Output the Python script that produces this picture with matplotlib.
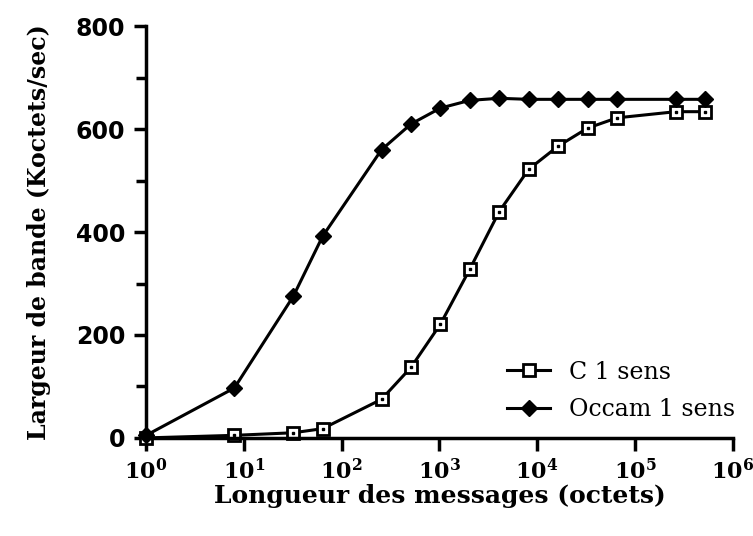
import matplotlib.pyplot as plt

# message sizes (octets) and bandwidth (Koctets/sec)
taille = [1, 8, 32, 64, 256, 512, 1024, 2048, 4096, 8192, 16384, 32768,
          65536, 262144, 524288]
c_1_sens = [0, 5, 10, 18, 75, 137, 221, 328, 440, 522, 567, 602,
            622, 634, 634]
occam_1_sens = [5, 97, 275, 392, 560, 610, 641, 656, 660, 658, 658, 658,
                658, 658, 658]

xticks = [1, 10, 100, 1000, 10000, 100000, 1000000]
xticklabels = ["$\\mathbf{10^{%d}}$" % i for i in range(7)]
yticks = [0, 200, 400, 600, 800]


def main():
    plt.rcParams["font.family"] = ["DejaVu Serif"]
    plt.rcParams["mathtext.fontset"] = "dejavuserif"

    fig = plt.figure(figsize=(7.53, 5.36), dpi=100)
    ax = fig.add_axes([0.194, 0.183, 0.779, 0.768])

    ax.plot(taille, c_1_sens, color="black", lw=2.2, marker="s", ms=9,
            mfc="white", mec="black", mew=2, label="C 1 sens", clip_on=False)
    # little dot in the middle of each square, as in the scan
    ax.plot(taille, c_1_sens, ls="none", marker="s", ms=2, color="black",
            clip_on=False)
    ax.plot(taille, occam_1_sens, color="black", lw=2.2, marker="D", ms=8,
            mfc="black", mec="black", label="Occam 1 sens", clip_on=False)

    ax.set_xscale("log")
    ax.set_xlim(1, 1e6)
    ax.set_ylim(0, 800)
    ax.set_xticks(xticks)
    ax.set_xticklabels(xticklabels, fontsize=16)
    ax.minorticks_off()
    ax.set_yticks(yticks)
    ax.set_yticks(range(100, 800, 200), minor=True)
    ax.set_yticklabels([str(v) for v in yticks])
    for t in ax.get_yticklabels():
        t.set_fontsize(17)
        t.set_fontweight("bold")
        t.set_family("DejaVu Sans")

    for s in ["top", "right"]:
        ax.spines[s].set_visible(False)
    for s in ["left", "bottom"]:
        ax.spines[s].set_linewidth(2.5)
    ax.tick_params(axis="both", which="major", length=9, width=2.5,
                   direction="out", pad=6)
    ax.tick_params(axis="y", which="minor", length=7, width=2.5,
                   direction="out")

    ax.set_xlabel("Longueur des messages (octets)", fontsize=18,
                  fontweight="bold", labelpad=0)
    ax.set_ylabel("Largeur de bande (Koctets/sec)", fontsize=17,
                  fontweight="bold", labelpad=18)

    ax.legend(loc="lower right", bbox_to_anchor=(1.04, -0.01), frameon=False,
              fontsize=17, handlelength=1.8, labelspacing=0.6,
              handletextpad=0.8)

    fig.savefig("out.png", dpi=100)


if __name__ == "__main__":
    main()
